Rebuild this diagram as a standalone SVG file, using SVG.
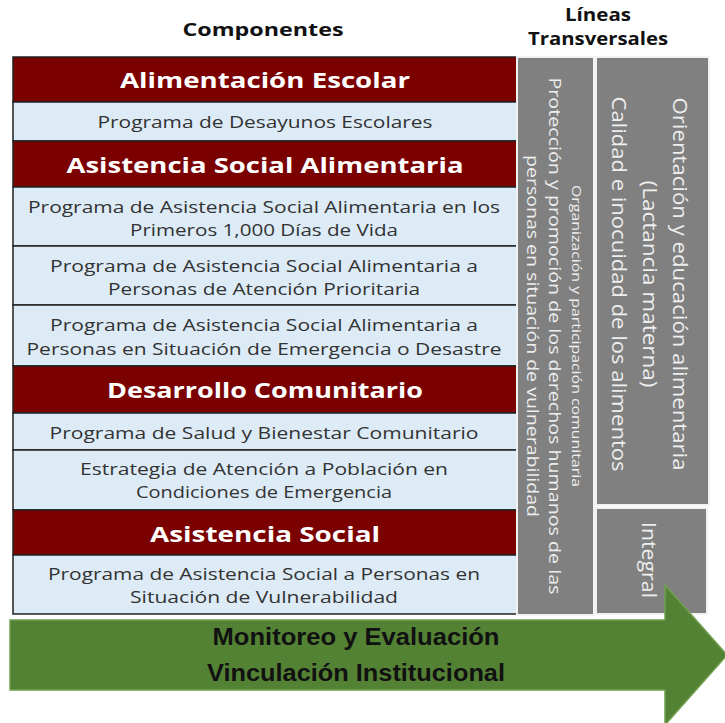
<svg xmlns="http://www.w3.org/2000/svg" width="725" height="723" viewBox="0 0 725 723">
<style>
.hd{fill:#7b0000;stroke:#222;stroke-width:1.5}
.pr{fill:#ddebf7;stroke:#222;stroke-width:1.5}
.gr{fill:#808080;stroke:#f2f2f2;stroke-width:2}
.ht{font-family:"Open Sans","DejaVu Sans",sans-serif;font-weight:bold;font-size:22px;fill:#fff;text-anchor:middle}
.pt{font-family:"Open Sans","DejaVu Sans",sans-serif;font-size:17px;fill:#333;text-anchor:middle}
.tt{font-family:"Open Sans","DejaVu Sans",sans-serif;font-weight:bold;font-size:18px;fill:#111;text-anchor:middle}
.vt{font-family:"Open Sans","DejaVu Sans",sans-serif;fill:#eeeeee;text-anchor:middle}
.gt{font-family:"Liberation Sans",Arial,sans-serif;font-weight:bold;font-size:24px;fill:#111;text-anchor:middle}
</style>
<g id="titles">
<text class="tt" x="263" y="36" textLength="161" lengthAdjust="spacingAndGlyphs">Componentes</text>
<text class="tt" x="598" y="21" textLength="66" lengthAdjust="spacingAndGlyphs">Líneas</text>
<text class="tt" x="598" y="45" textLength="140" lengthAdjust="spacingAndGlyphs">Transversales</text>
</g>
<g id="alimentacion-escolar">
<rect class="hd" x="13" y="57" width="504" height="45"/>
<text class="ht" x="265" y="88" textLength="290" lengthAdjust="spacingAndGlyphs">Alimentación Escolar</text>
</g>
<g id="desayunos">
<rect class="pr" x="13" y="102" width="504" height="39"/>
<text class="pt" x="265" y="128" textLength="335" lengthAdjust="spacingAndGlyphs">Programa de Desayunos Escolares</text>
</g>
<g id="asistencia-social-alimentaria">
<rect class="hd" x="13" y="141" width="504" height="46"/>
<text class="ht" x="265" y="173" textLength="397" lengthAdjust="spacingAndGlyphs">Asistencia Social Alimentaria</text>
</g>
<g id="primeros-1000">
<rect class="pr" x="13" y="187" width="504" height="59"/>
<text class="pt" x="264" y="213" textLength="472" lengthAdjust="spacingAndGlyphs">Programa de Asistencia Social Alimentaria en los</text>
<text class="pt" x="264" y="236" textLength="268" lengthAdjust="spacingAndGlyphs">Primeros 1,000 Días de Vida</text>
</g>
<g id="atencion-prioritaria">
<rect class="pr" x="13" y="246" width="504" height="59"/>
<text class="pt" x="264" y="272" textLength="428" lengthAdjust="spacingAndGlyphs">Programa de Asistencia Social Alimentaria a</text>
<text class="pt" x="264" y="295" textLength="312" lengthAdjust="spacingAndGlyphs">Personas de Atención Prioritaria</text>
</g>
<g id="emergencia-desastre">
<rect class="pr" x="13" y="305" width="504" height="61"/>
<text class="pt" x="264" y="331" textLength="428" lengthAdjust="spacingAndGlyphs">Programa de Asistencia Social Alimentaria a</text>
<text class="pt" x="264" y="355" textLength="475" lengthAdjust="spacingAndGlyphs">Personas en Situación de Emergencia o Desastre</text>
</g>
<g id="desarrollo-comunitario">
<rect class="hd" x="13" y="366" width="504" height="47"/>
<text class="ht" x="265" y="398" textLength="316" lengthAdjust="spacingAndGlyphs">Desarrollo Comunitario</text>
</g>
<g id="salud-bienestar">
<rect class="pr" x="13" y="413" width="504" height="37"/>
<text class="pt" x="264" y="439" textLength="429" lengthAdjust="spacingAndGlyphs">Programa de Salud y Bienestar Comunitario</text>
</g>
<g id="estrategia">
<rect class="pr" x="13" y="450" width="504" height="60"/>
<text class="pt" x="264" y="475" textLength="368" lengthAdjust="spacingAndGlyphs">Estrategia de Atención a Población en</text>
<text class="pt" x="264" y="498" textLength="256" lengthAdjust="spacingAndGlyphs">Condiciones de Emergencia</text>
</g>
<g id="asistencia-social">
<rect class="hd" x="13" y="510" width="504" height="45"/>
<text class="ht" x="265" y="542" textLength="230" lengthAdjust="spacingAndGlyphs">Asistencia Social</text>
</g>
<g id="vulnerabilidad">
<rect class="pr" x="13" y="555" width="504" height="59"/>
<text class="pt" x="264" y="580" textLength="432" lengthAdjust="spacingAndGlyphs">Programa de Asistencia Social a Personas en</text>
<text class="pt" x="264" y="603" textLength="268" lengthAdjust="spacingAndGlyphs">Situación de Vulnerabilidad</text>
</g>
<g id="linea-derechos">
<rect class="gr" x="517" y="57" width="77" height="558"/>
<text class="vt" font-size="12" transform="translate(572,336) rotate(90)" textLength="302" lengthAdjust="spacingAndGlyphs">Organización y participación comunitaria</text>
<text class="vt" font-size="17" transform="translate(549,336) rotate(90)" textLength="517" lengthAdjust="spacingAndGlyphs">Protección y promoción de los derechos humanos de las</text>
<text class="vt" font-size="17" transform="translate(527,336) rotate(90)" textLength="362" lengthAdjust="spacingAndGlyphs">personas en situación de vulnerabilidad</text>
</g>
<g id="linea-alimentaria">
<rect class="gr" x="596" y="57" width="113" height="448"/>
<text class="vt" font-size="20" transform="translate(673,284) rotate(90)" textLength="373" lengthAdjust="spacingAndGlyphs">Orientación y educación alimentaria</text>
<text class="vt" font-size="20" transform="translate(643,284) rotate(90)" textLength="207" lengthAdjust="spacingAndGlyphs">(Lactancia materna)</text>
<text class="vt" font-size="20" transform="translate(612,284) rotate(90)" textLength="375" lengthAdjust="spacingAndGlyphs">Calidad e inocuidad de los alimentos</text>
</g>
<g id="linea-integral">
<rect class="gr" x="596" y="508" width="111" height="106"/>
<text class="vt" font-size="20" transform="translate(642,560) rotate(90)" textLength="76" lengthAdjust="spacingAndGlyphs">Integral</text>
</g>
<g id="monitoreo">
<polygon points="10,620 665,620 665,585 727,655 665,725 665,690 10,690" fill="#548235" stroke="#70a050" stroke-width="1.5"/>
<text class="gt" x="356" y="645" textLength="287" lengthAdjust="spacingAndGlyphs">Monitoreo y Evaluación</text>
<text class="gt" x="356" y="681" textLength="298" lengthAdjust="spacingAndGlyphs">Vinculación Institucional</text>
</g>
</svg>
